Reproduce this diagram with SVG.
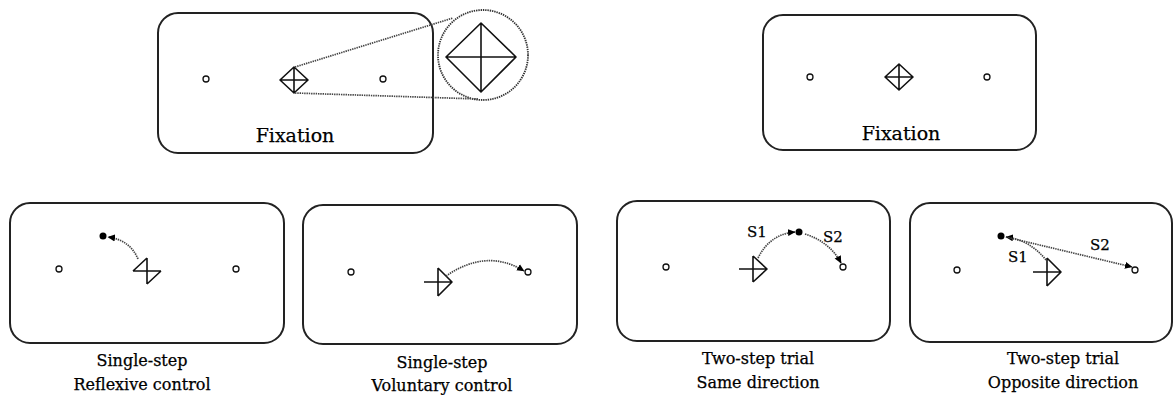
<svg xmlns="http://www.w3.org/2000/svg" width="1174" height="395" viewBox="0 0 1174 395">
<style>
.box{fill:none;stroke:#222;stroke-width:2}
.pt{fill:#fff;stroke:#111;stroke-width:1.3}
.stim{fill:none;stroke:#111;stroke-width:1.6;stroke-linejoin:round}
.dot{fill:#000}
.dash{fill:none;stroke:#444;stroke-width:1.7;stroke-dasharray:1.4 0.9}
.lbl{fill:#000;stroke:#000;stroke-width:0.25;text-anchor:middle}
.big{font-size:19px}
.cap{font-size:16px}
.s{font-size:15px}
</style>
<defs>
<marker id="ah" markerWidth="8" markerHeight="8" refX="7" refY="4" orient="auto" markerUnits="userSpaceOnUse">
<path d="M0,0.5 L7.5,4 L0,7.5 Z" fill="#000"/>
</marker>
</defs>
<g font-family="'DejaVu Serif', 'Liberation Serif', serif">
<g id="fixation-left">
<rect class="box" x="158" y="13" width="275" height="140" rx="20"/>
<circle class="pt" cx="206" cy="79" r="3"/>
<circle class="pt" cx="383" cy="79" r="3"/>
<path class="stim" d="M294 67 L308 80 L294 93 L280 80 Z M294 67 V93 M280 80 H308"/>
<text class="lbl big" x="295" y="142">Fixation</text>
</g>
<g id="zoom-inset">
<circle cx="483" cy="55" r="45" fill="#fff" stroke="#333" stroke-width="1.8" stroke-dasharray="1.4 0.9"/>
<path class="stim" d="M481 23 L516 57 L481 92 L446 57 Z M481 23 V92 M446 57 H516" stroke-width="2"/>
</g>
<g id="fixation-right">
<rect class="box" x="763" y="15" width="273" height="135" rx="20"/>
<circle class="pt" cx="810" cy="77" r="3"/>
<circle class="pt" cx="987" cy="77" r="3"/>
<path class="stim" d="M899 64 L913 77 L899 90 L885 77 Z M899 64 V90 M885 77 H913"/>
<text class="lbl big" x="901" y="140">Fixation</text>
</g>
<g id="reflexive">
<rect class="box" x="10" y="203" width="274" height="140" rx="20"/>
<circle class="pt" cx="59" cy="269" r="3"/>
<circle class="pt" cx="236" cy="269" r="3"/>
<path class="stim" d="M147 258 V284 M133 271 H161 M147 258 L133 271 M161 271 L147 284"/>
<circle class="dot" cx="103" cy="236" r="3.5"/>
<text class="lbl cap" x="142" y="366">Single-step</text>
<text class="lbl cap" x="142" y="390">Reflexive control</text>
</g>
<g id="voluntary">
<rect class="box" x="303" y="205" width="274" height="139" rx="20"/>
<circle class="pt" cx="351" cy="272" r="3"/>
<circle class="pt" cx="528" cy="272" r="3"/>
<path class="stim" d="M438 268 V296 M424 282 H452 M438 268 L452 282 L438 296"/>
<text class="lbl cap" x="442" y="368">Single-step</text>
<text class="lbl cap" x="442" y="391">Voluntary control</text>
</g>
<g id="same-direction">
<rect class="box" x="617" y="201" width="273" height="140" rx="20"/>
<circle class="pt" cx="666" cy="267" r="3"/>
<circle class="pt" cx="843" cy="267" r="3"/>
<path class="stim" d="M753 256 V282 M739 269 H767 M753 256 L767 269 L753 282"/>
<circle class="dot" cx="799" cy="232" r="3.5"/>
<text class="lbl s" x="757" y="237">S1</text>
<text class="lbl s" x="833" y="242">S2</text>
<text class="lbl cap" x="758" y="364">Two-step trial</text>
<text class="lbl cap" x="758" y="388">Same direction</text>
</g>
<g id="opposite-direction">
<rect class="box" x="910" y="203" width="262" height="139" rx="20"/>
<circle class="pt" cx="957" cy="270" r="3"/>
<circle class="pt" cx="1135" cy="270" r="3"/>
<path class="stim" d="M1047 258 V286 M1033 272 H1061 M1047 258 L1061 272 L1047 286"/>
<circle class="dot" cx="1001" cy="236" r="3.5"/>
<text class="lbl s" x="1018" y="262">S1</text>
<text class="lbl s" x="1100" y="250">S2</text>
<text class="lbl cap" x="1063" y="364">Two-step trial</text>
<text class="lbl cap" x="1063" y="388">Opposite direction</text>
</g>
</g>
<g id="connectors">
<path class="dash" d="M295 67 L453 18"/>
<path class="dash" d="M295 93 L478 99"/>
<path class="dash" d="M138 259 Q130 240 108 237" marker-end="url(#ah)"/>
<path class="dash" d="M446 276 Q487 248 524 271" marker-end="url(#ah)"/>
<path class="dash" d="M758 258 Q770 234 795 232" marker-end="url(#ah)"/>
<path class="dash" d="M805 234 Q830 242 841 263" marker-end="url(#ah)"/>
<path class="dash" d="M1046 260 Q1030 240 1006 237" marker-end="url(#ah)"/>
<path class="dash" d="M1006 237 L1132 267" marker-end="url(#ah)"/>
</g>
</svg>
